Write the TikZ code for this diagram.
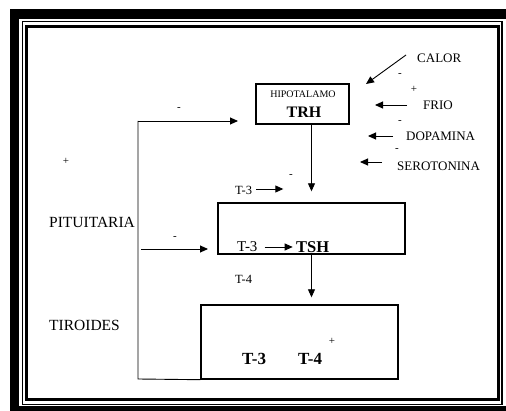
\documentclass[tikz,border=0pt]{standalone}
\usepackage{fontspec}
\setmainfont{Liberation Serif}
\usetikzlibrary{arrows.meta}
\begin{document}
\begin{tikzpicture}[x=1pt,y=-1pt,
  arr/.style={-{Triangle[length=8pt,width=7pt]},line width=0.9pt},
  lbl/.style={inner sep=0pt,anchor=west,font=\fontsize{13}{13}\selectfont},
  sgn/.style={inner sep=0pt,font=\fontsize{11}{11}\selectfont},
  box/.style={draw,line width=1.4pt,inner sep=0pt}]
\useasboundingbox (0,0) rectangle (506,411);
% frame
\fill[black] (10,9) rectangle (506,411);
\fill[white] (19,19) rectangle (506,406);
\draw[line width=1.2pt] (22.3,21.5) rectangle (502,404.5);
\draw[line width=3pt] (26.7,26.5) rectangle (498.5,400);
% boxes
\node[box,minimum width=93pt,minimum height=40pt] (hyp) at (302.5,104) {};
\node[box,minimum width=187pt,minimum height=51pt] (pit) at (311.5,228.5) {};
\node[box,minimum width=197pt,minimum height=74pt] (tir) at (299.5,342) {};
% box texts
\node[inner sep=0pt,font=\fontsize{10}{10}\selectfont] (hypl) at (303,94) {HIPOTALAMO};
\node[inner sep=0pt,font=\fontsize{16}{16}\selectfont\bfseries] (trh) at (304,112) {TRH};
\node[lbl,font=\fontsize{15}{15}\selectfont] (t3p) at (237,247) {T-3};
\node[lbl,font=\fontsize{16.5}{16}\selectfont\bfseries] (tsh) at (296,247) {TSH};
\node[lbl,font=\fontsize{17}{17}\selectfont\bfseries] (t3b) at (242,359) {T-3};
\node[lbl,font=\fontsize{17}{17}\selectfont\bfseries] (t4b) at (298,359) {T-4};
% labels
\node[lbl] (calor) at (417,58) {CALOR};
\node[lbl] (frio) at (423,105) {FRIO};
\node[lbl] (dopa) at (406,136) {DOPAMINA};
\node[lbl] (sero) at (397,166) {SEROTONINA};
\node[lbl,font=\fontsize{15.5}{15}\selectfont] (pitl) at (49,222) {PITUITARIA};
\node[lbl,font=\fontsize{15.5}{15}\selectfont] (tirl) at (49,325) {TIROIDES};
\node[lbl,font=\fontsize{12.5}{12}\selectfont] (t3t) at (235,190) {T-3};
\node[lbl,font=\fontsize{12.5}{12}\selectfont] (t4m) at (235,279) {T-4};
% signs
\node[sgn] (s1) at (400,75) {-};
\node[sgn] (s2) at (414,89) {+};
\node[sgn] (s3) at (400,122) {-};
\node[sgn] (s4) at (397,150) {-};
\node[sgn] (s5) at (291,176) {-};
\node[sgn] (s6) at (175,238) {-};
\node[sgn] (s7) at (179,109) {-};
\node[sgn] (s8) at (66,161) {+};
\node[sgn] (s9) at (332,341) {+};
% coordinates
\coordinate (calS) at (406,55);
\coordinate (calE) at (366,84);
\coordinate (fb1) at (138,379);
\coordinate (fb2) at (138,121);
\coordinate (fbE) at (238,121);
\coordinate (fpS) at (141,249);
\coordinate (fpE) at (208,249);
% connectors
\draw[arr] (calS) -- (calE);
\draw[arr,shorten <=16pt] (frio.west) -- ++(-48,0);
\draw[arr,shorten <=13pt] (dopa.west) -- ++(-38,0);
\draw[arr,shorten <=15pt] (sero.west |- 0,162) -- ++(-37,0);
\draw[arr,shorten <=4pt] (t3t.east |- 0,189) -- ++(31,0);
\draw[arr,shorten <=7pt] (t3p.east) -- ++(35,0);
\draw[arr,shorten >=11pt] (hyp.south -| pit.north) -- (pit.north);
\draw[arr,shorten >=7pt] (pit.south) -- (pit.south |- tir.north);
\draw[line width=0.9pt] (tir.south west) -- (fb1) -- (fb2);
\draw[arr] (fb2) -- (fbE);
\draw[arr] (fpS) -- (fpE);
\end{tikzpicture}
\end{document}
